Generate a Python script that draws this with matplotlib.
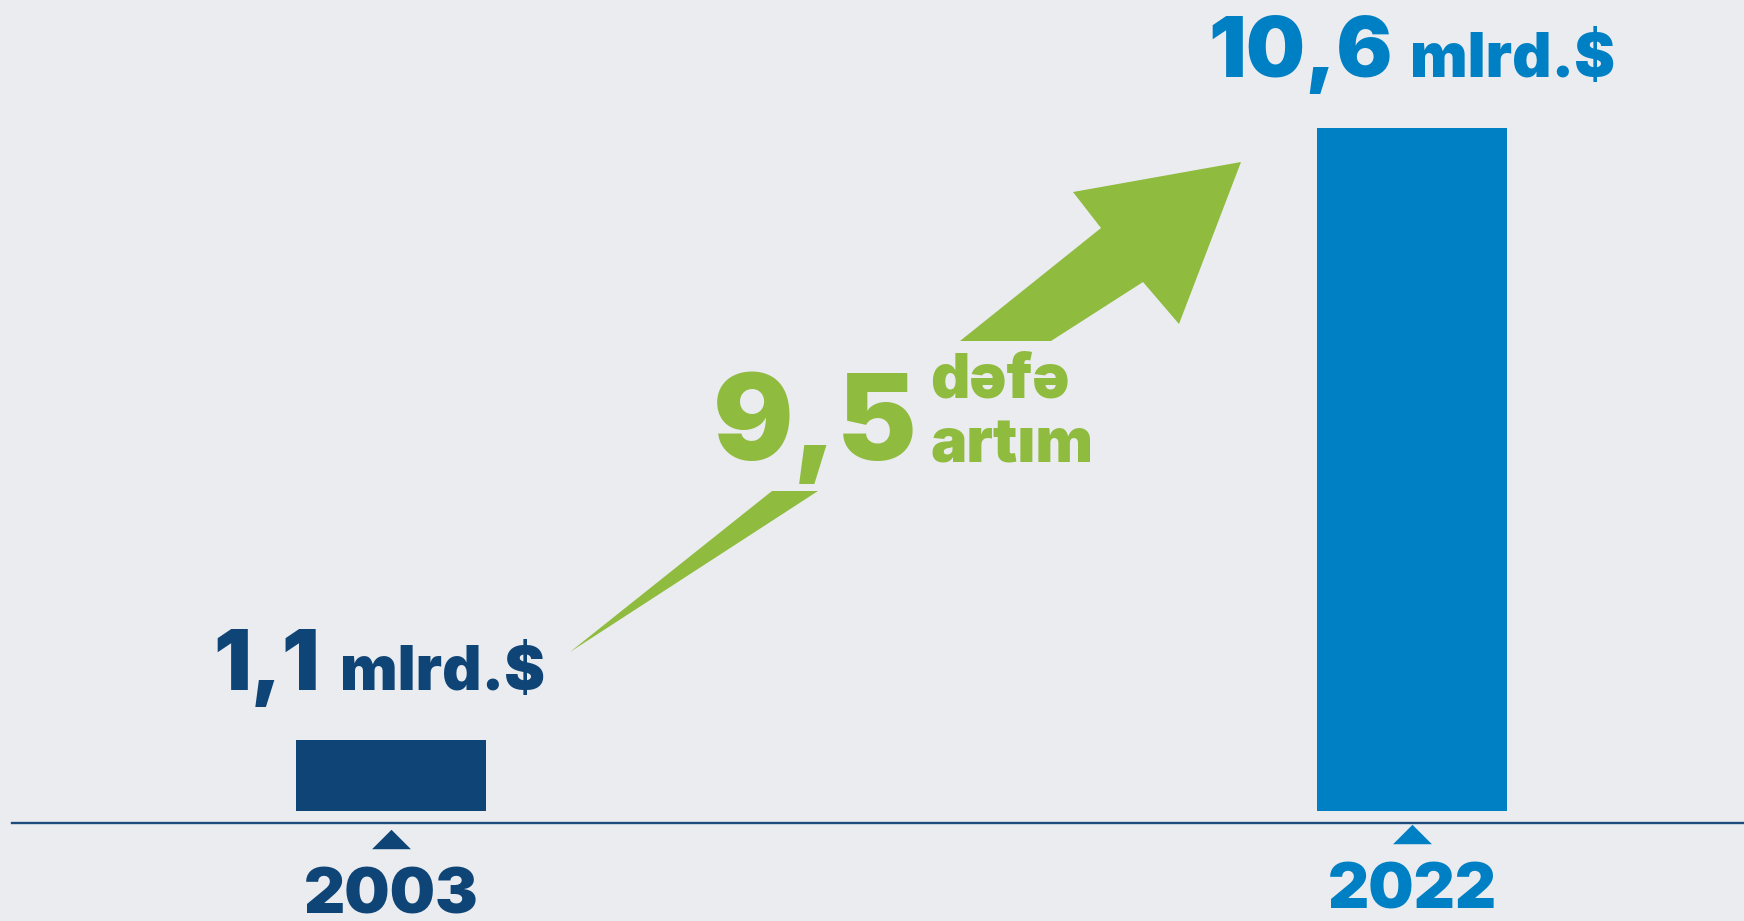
import numpy as np
import matplotlib.pyplot as plt
from matplotlib.patches import Polygon

# chart data
years = ['2003', '2022']
values = [1.1, 10.6]
unit = 'mlrd.$'
growth = '9,5'
growth_words = ['dəfə', 'artım']

navy = '#0f4576'
blue = '#0080c4'
green = '#8fbb3f'
bg = '#ebecf0'
bar_colors = [navy, blue]

plt.rcParams['font.family'] = ['Inter', 'DejaVu Sans']

W, H = 1744, 921
fig = plt.figure(figsize=(W / 100, H / 100), dpi=100)
fig.patch.set_facecolor(bg)
ax = fig.add_axes([0, 0, 1, 1])
ax.set_facecolor(bg)
ax.set_xlim(-0.383, 1.325)
ax.set_ylim(-1.707, 12.587)
ax.axis('off')


def px(x, y):
    # pixel position from top-left -> figure fraction
    return (x / W, 1 - y / H)


x = np.arange(len(years))
ax.bar(x, values, width=0.186, color=bar_colors)

# base line
ax.axhline(-0.186, xmin=12 / W, xmax=1, color='#1d4b7c', lw=1.7)

# small triangles under the bars
tri = [(-1, -0.5), (1, -0.5), (0, 0.5)]
tri_y = [-0.44, -0.35]
year_y = [-1.59, -1.51]
for i in range(len(years)):
    ax.plot(x[i], tri_y[i], marker=tri, ms=28, color=bar_colors[i], mew=0)
    ax.text(x[i], year_y[i], years[i], ha='center', va='baseline',
            fontsize=46, fontweight='black', color=bar_colors[i])

# value labels
def fmt(v):
    return f'{v:.1f}'.replace('.', ',')

val_pos = [(213, 690, 340), (1208, 77, 1410)]
for i, v in enumerate(values):
    x0, yb, xu = val_pos[i]
    fig.text(*px(x0, yb), fmt(v), ha='left', va='baseline', fontsize=60,
             fontweight='black', color=bar_colors[i])
    fig.text(*px(xu, yb), unit, ha='left', va='baseline', fontsize=44,
             fontweight='black', color=bar_colors[i])

# growth arrow
wedge = [(570, 652), (772, 491), (818, 491)]
head = [(960, 341), (1101, 228), (1073, 192), (1241, 162),
        (1179, 324), (1143, 282), (1051, 341)]
for pts in (wedge, head):
    fig.patches.append(Polygon([px(a, b) for a, b in pts], closed=True,
                               transform=fig.transFigure, facecolor=green,
                               edgecolor='none'))

fig.text(*px(713, 460), growth, ha='left', va='baseline', fontsize=86,
         fontweight='black', color=green)
fig.text(*px(930, 397), growth_words[0], ha='left', va='baseline',
         fontsize=44, fontweight='black', color=green)
fig.text(*px(930, 462), growth_words[1], ha='left', va='baseline',
         fontsize=44, fontweight='black', color=green)

fig.savefig('out.png', dpi=100, facecolor=bg)
